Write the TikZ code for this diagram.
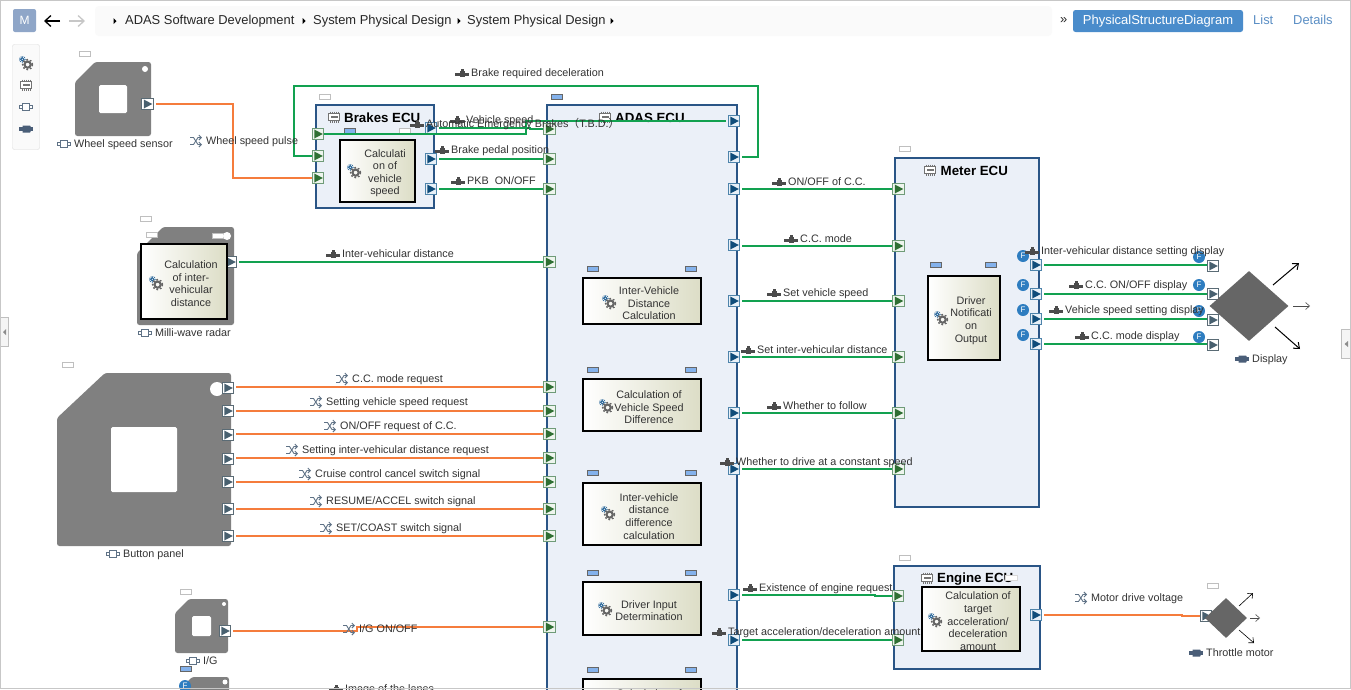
\documentclass[tikz,border=0pt]{standalone}
\usepackage{fontspec}
\setmainfont{Liberation Sans}
\newfontfamily\cjkf{Noto Sans CJK JP}
\usetikzlibrary{shapes.geometric,arrows.meta,calc}
\definecolor{ecufill}{HTML}{EBF0F8}
\definecolor{eculine}{HTML}{2A5586}
\definecolor{grn}{HTML}{12A150}
\definecolor{org}{HTML}{F57C3C}
\definecolor{devgray}{HTML}{808080}
\definecolor{dia}{HTML}{666666}
\definecolor{funcr}{HTML}{DCDDC6}
\definecolor{tagblue}{HTML}{84B2EC}
\definecolor{fblue}{HTML}{2E7DC0}
\definecolor{txt}{HTML}{333333}
\definecolor{linkb}{HTML}{5B8FC5}
\definecolor{btnb}{HTML}{4A8CCB}
\definecolor{mbtn}{HTML}{8FA6C8}
\definecolor{ipb}{HTML}{6F9B78}
\definecolor{ipf}{HTML}{EEF5EE}
\definecolor{ipt}{HTML}{2F6F33}
\definecolor{opb}{HTML}{4E84AB}
\definecolor{opf}{HTML}{E8F0F8}
\definecolor{opt}{HTML}{0F4C7A}
\definecolor{dpb}{HTML}{5A6B75}
\definecolor{dpt}{HTML}{48606F}
\definecolor{iconb}{HTML}{5F7286}
\definecolor{iconh}{HTML}{4A5E78}
\tikzset{
 lbl/.style={anchor=west,inner sep=0pt,text height=8pt,text depth=2pt,yshift=-.7pt,font=\fontsize{10.8}{12}\selectfont,text=txt},
 ctext/.style={inner sep=0pt,align=center,yshift=-2.3pt,font=\fontsize{10.8}{12.6}\selectfont,text=txt},
 crumb/.style={anchor=west,inner sep=0pt,text height=9pt,text depth=3pt,yshift=-.7pt,font=\fontsize{12.9}{14}\selectfont,text=black!85},
 ttl/.style={anchor=west,inner sep=0pt,yshift=-.8pt,font=\bfseries\fontsize{13.3}{13}\selectfont},
 ecubox/.style={draw=eculine,line width=1.6pt,fill=ecufill,inner sep=0pt},
 funcbox/.style={draw=black,line width=1.8pt,left color=white,right color=funcr,inner sep=0pt},
 port/.style n args={3}{draw=#1,fill=#2,line width=1.1pt,minimum size=11.5pt,inner sep=0pt,
   path picture={\fill[#3] ([shift={(-3.7,-4.5)}]path picture bounding box.center) -- ++(8.5,4.5) -- ++(-8.5,4.5) -- cycle;}},
 inport/.style={port={ipb}{ipf}{ipt}},
 outport/.style={port={opb}{opf}{opt}},
 devport/.style={port={dpb}{white}{dpt}},
 greenwire/.style={draw=grn,line width=1.6pt,shorten <=2pt},
 orangewire/.style={draw=org,line width=1.6pt,shorten <=2pt},
 tagwhite/.style={draw=black!25,fill=white,line width=.8pt,inner sep=0pt},
 tagblue/.style={draw=black!60,fill=tagblue,line width=.8pt,inner sep=0pt},
 fcirc/.style={circle,fill=fblue,text=white,inner sep=0pt,minimum size=12pt,font=\fontsize{8}{8}\selectfont},
 farrow/.style={-{Straight Barb[length=5pt,width=8pt]},line width=1pt,black},
 farrowthin/.style={-{Straight Barb[length=4pt,width=7pt]},line width=.6pt,black!70},
 gearicon/.pic={
   \draw[fblue!80!black,line width=1pt] (-3.7,-3.7) circle (1.7);
   \draw[fblue!80!black,line width=.8pt,dash pattern=on .9pt off 1.1pt] (-3.7,-3.7) circle (3);
   \draw[black!60,line width=2.1pt] (1.6,1.6) circle (3.1);
   \draw[black!60,line width=1.4pt,dash pattern=on 1.7pt off 1.9pt] (1.6,1.6) circle (5);
 },
 chipicon/.pic={
   \draw[black!55,line width=1.2pt,fill=white] (-5.5,-3.5) rectangle (5.5,3.5);
   \fill[black!55] (-3.5,-1) rectangle (3.5,1);
   \foreach \k in {-4,-2,0,2,4}{\draw[black!55,line width=.7pt] (\k,-5.5) -- (\k,-3.5) (\k,3.5) -- (\k,5.5);}
 },
 connicon/.pic={
   \draw[iconb,line width=.8pt,fill=white] (-3.5,-3.5) rectangle (3.5,3.5);
   \draw[iconb,line width=.8pt,fill=white] (-6.5,-1.5) rectangle (-3.5,1.5);
   \draw[iconb,line width=.8pt,fill=white] (3.5,-1.5) rectangle (6,1.5);
 },
 harnicon/.pic={
   \fill[iconh] (-7,-1.8) rectangle (7,1.8);
   \fill[iconh] (-3.5,-3.5) -- (4,-3.5) -- (6,0) -- (4,3.5) -- (-3.5,3.5) -- cycle;
 },
 sigicon/.pic={
   \fill[black!70] (-7,-.2) rectangle (7,2.6);
   \fill[black!70] (-2.5,-2.2) rectangle (3,3.6);
   \fill[black!70] (-1.2,-4) rectangle (1.6,-2);
 },
 shufficon/.pic={
   \draw[iconb,line width=.9pt,-{Straight Barb[length=2.5pt,width=5pt]}] (-6,-3.5) -- (-2.5,-3.5) -- (2,3.5) -- (6,3.5);
   \draw[iconb,line width=.9pt,-{Straight Barb[length=2.5pt,width=5pt]}] (-6,3.5) -- (-2.5,3.5) -- (2,-3.5) -- (6,-3.5);
 },
}
\newcount\nctr
\newcommand{\SigL}[3]{\global\advance\nctr by 1 \pic at (#1-9,#2) {sigicon}; \node[lbl] (l\the\nctr) at (#1,#2) {#3};}
\newcommand{\ShL}[3]{\global\advance\nctr by 1 \pic at (#1-10,#2) {shufficon}; \node[lbl] (l\the\nctr) at (#1,#2) {#3};}
\newcommand{\CoL}[3]{\global\advance\nctr by 1 \pic at (#1-10,#2) {connicon}; \node[lbl] (l\the\nctr) at (#1,#2) {#3};}
\newcommand{\HaL}[3]{\global\advance\nctr by 1 \pic at (#1-10,#2) {harnicon}; \node[lbl] (l\the\nctr) at (#1,#2) {#3};}
\newcommand{\BX}[6]{\node[#1,minimum width={(#5-(#3))*1pt-1.7pt},minimum height={(#6-(#4))*1pt-1.7pt}] (#2) at ({(#3+#5)/2},{(#4+#6)/2}) {};}
\newcommand{\EB}[5]{\node[ecubox,minimum width={(#4-(#2))*1pt},minimum height={(#5-(#3))*1pt}] (#1) at ({(#2+#4)/2},{(#3+#5)/2}) {};}
\newcommand{\FB}[9]{\BX{funcbox}{#1}{#2}{#3}{#4}{#5}\pic at (#6,#7) {gearicon}; \node[ctext] (#1t) at (#8,{(#3+#5)/2}) {#9};}
\newcommand{\TG}[3]{\global\advance\nctr by 1 \node[#1,minimum width=11.5pt,minimum height=4.8pt] (t\the\nctr) at (#2+6,#3+2.5) {};}
\newcommand{\FC}[2]{\global\advance\nctr by 1 \node[fcirc] (f\the\nctr) at (#1,#2) {F};}
\newcommand{\DV}[6]{\fill[devgray,rounded corners=2.5pt] (#1,#2+#6) -- (#1+#5,#2) -- (#3,#2) -- (#3,#4) -- (#1,#4) -- cycle;}
\newcommand{\HL}[4]{\fill[white,rounded corners=1.5pt] (#1,#2) rectangle (#3,#4);}
\begin{document}
\begin{tikzpicture}[x=1pt,y=-1pt]
\useasboundingbox (0,0) rectangle (1351,689);
\clip (0,0) rectangle (1351,689);
\fill[white] (0,0) rectangle (1351,689);

% ---------- header
\fill[black!2,rounded corners=4pt] (95,6) rectangle (1052,36);
\node[fill=mbtn,text=white,rounded corners=2pt,minimum width=23pt,minimum height=23pt,inner sep=0pt,font=\fontsize{12}{12}\selectfont] (mbtnn) at (24.5,20.5) {M};
\coordinate (ba) at (60,21); \coordinate (bb) at (44,21);
\draw[black,line width=1.3pt,-{Straight Barb[length=6pt,width=11pt]}] (ba) -- (bb);
\coordinate (fa) at (69,21); \coordinate (fb) at (85,21);
\draw[black!22,line width=1.3pt,-{Straight Barb[length=6pt,width=11pt]}] (fa) -- (fb);
\foreach \tx in {115,304,459,612}{\fill[black] (\tx-1.5,18) -- (\tx+1.5,21) -- (\tx-1.5,24) -- cycle;}
\node[crumb] (c1) at (125,21) {ADAS Software Development};
\node[crumb] (c2) at (313,21) {System Physical Design};
\node[crumb] (c3) at (467,21) {System Physical Design};
\node[crumb] (c4) at (1060,19.5) {»};
\node[fill=btnb,text=white,rounded corners=2.5pt,minimum width=170pt,minimum height=22pt,inner sep=0pt,font=\fontsize{13}{14}\selectfont] (tabp) at (1158,21) {PhysicalStructureDiagram};
\node[crumb,text=linkb] (tabl) at (1253,21) {List};
\node[crumb,text=linkb] (tabd) at (1293,21) {Details};

% toolbar
\node[draw=black!14,fill=black!2,rounded corners=2pt,minimum width=27pt,minimum height=105pt,inner sep=0pt] (tb) at (26,97) {};
\pic at (26,63) {gearicon};
\pic at (26,85) {chipicon};
\pic at (26,107) {connicon};
\pic at (26,129) {harnicon};

% side tabs
\node[draw=black!25,fill=black!4,line width=.8pt,minimum width=8pt,minimum height=29pt,inner sep=0pt] (sl) at (4,331.5) {};
\fill[black!45] (6,329) -- (3,332) -- (6,335) -- cycle;
\node[draw=black!25,fill=black!4,line width=.8pt,minimum width=9pt,minimum height=29pt,inner sep=0pt] (sr) at (1345.5,343.5) {};
\fill[black!45] (1348,341) -- (1344.5,344) -- (1348,347) -- cycle;

% ---------- devices
\DV{75}{62}{151}{136}{20}{20}\HL{99}{85}{127}{113}
\fill[white] (145,69) circle (3);
\TG{tagwhite}{79}{51}
\DV{137}{227}{234}{325}{26}{26}
\TG{tagwhite}{140}{216}
\TG{tagwhite}{146}{232}
\TG{tagwhite}{212}{233}
\fill[white] (227,236) circle (4);
\DV{57}{373}{231}{546}{48}{45}\HL{111}{427}{177}{492}
\fill[white] (217,389) circle (7);
\TG{tagwhite}{62}{362}
\DV{175}{599}{228}{653}{14}{14}\HL{192}{616}{211}{636}
\fill[white] (224,604) circle (2);
\TG{tagwhite}{180}{589}
\DV{180}{677}{229}{720}{12}{12}
\fill[white] (225,682) circle (2.5);
\TG{tagblue}{180}{666}

% ---------- ECUs
\EB{brakes}{316}{105}{434}{208}
\EB{adas}{547}{105}{737}{800}
\EB{meter}{895}{158}{1039}{507}
\EB{engine}{894}{566}{1040}{669}
\TG{tagwhite}{319}{94}
\TG{tagblue}{551}{94}
\TG{tagwhite}{899}{146}
\TG{tagwhite}{899}{555}
\TG{tagwhite}{1207}{583}
\TG{tagblue}{344}{128}
\TG{tagwhite}{399}{128}
\pic at (334,117) {chipicon};
\node[ttl] (tbr) at (344,117) {Brakes ECU};
\pic at (605,117) {chipicon};
\node[ttl] (tad) at (615,117) {ADAS ECU};
\pic at (930,170) {chipicon};
\node[ttl] (tme) at (940.5,170) {Meter ECU};
\pic at (927,578) {chipicon};
\node[ttl] (ten) at (937,578) {Engine ECU};
\node[fill=white,draw=black!15,minimum width=12pt,minimum height=5pt,inner sep=0pt] (tenw) at (1011,578) {};

% ---------- ports
\node[devport] (pw) at (147.5,104) {};
\node[devport] (pr) at (231,262) {};
\foreach \n/\py in {1/388,2/411,3/435,4/459,5/482,6/509,7/536}{\node[devport] (pb\n) at (228,\py) {};}
\node[devport] (pi) at (225,631) {};
\node[inport] (bi1) at (318,134) {};
\node[inport] (bi2) at (318,156) {};
\node[inport] (bi3) at (318,178) {};
\node[outport] (bo1) at (431,128) {};
\node[outport] (bo2) at (431,159) {};
\node[outport] (bo3) at (431,189) {};
\foreach \n/\py in {1/129,2/159,3/189,4/262,5/387,6/411,7/434,8/458,9/482,10/509,11/536,12/627}{\node[inport] (ai\n) at (549.5,\py) {};}
\foreach \n/\py in {1/121,2/157,3/189,4/245,5/301,6/357,7/413,8/469,9/595,10/640}{\node[outport] (ao\n) at (734,\py) {};}
\foreach \n/\py in {1/189,2/246,3/301,4/357,5/413,6/469}{\node[inport] (mi\n) at (898.5,\py) {};}
\foreach \n/\py in {1/265,2/294,3/319,4/344}{\node[outport] (mo\n) at (1036,\py) {};}
\foreach \n/\py in {1/266,2/294,3/320,4/345}{\node[devport] (di\n) at (1213,\py) {};}
\node[inport] (ei1) at (898,596) {};
\node[inport] (ei2) at (898,640) {};
\node[outport] (eo1) at (1036,615) {};
\node[devport] (ti) at (1206,616) {};

% ---------- function boxes
\TG{tagblue}{587}{266}\TG{tagblue}{685}{266}
\FB{f1}{582}{277}{702}{325}{609}{302}{649}{Inter-Vehicle\\Distance\\Calculation}
\TG{tagblue}{587}{367}\TG{tagblue}{685}{367}
\FB{f2}{582}{378}{702}{432}{606}{406}{649}{Calculation of\\Vehicle Speed\\Difference}
\TG{tagblue}{587}{470}\TG{tagblue}{685}{470}
\FB{f3}{582}{482}{702}{546}{608}{513}{649}{Inter-vehicle\\distance\\difference\\calculation}
\TG{tagblue}{587}{570}\TG{tagblue}{685}{570}
\FB{f4}{582}{581}{702}{636}{605}{609}{649}{Driver Input\\Determination}
\TG{tagblue}{587}{667}\TG{tagblue}{685}{667}
\BX{funcbox}{f5}{582}{678}{702}{740}
\node[ctext] (f5t) at (649,691) {Calculation of};
\FB{fb}{339}{139}{416}{203}{354}{171}{385}{Calculati\\on of\\vehicle\\speed}
\FB{fr}{140}{243}{228}{320}{156}{283}{191}{Calculation\\of inter-\\vehicular\\distance}
\TG{tagblue}{930}{262}\TG{tagblue}{985}{262}
\FB{fm}{927}{275}{1001}{361}{941}{318}{971}{Driver\\Notificati\\on\\Output}
\FB{fe}{921}{586}{1021}{652}{935}{620}{978}{Calculation of\\target\\acceleration/\\deceleration\\amount}

% ---------- diamonds
\node[diamond,fill=dia,minimum width=79pt,minimum height=70pt,inner sep=0pt] (dsp) at (1249,306) {};
\node[diamond,fill=dia,minimum width=42pt,minimum height=40pt,inner sep=0pt] (thr) at (1226,618) {};
\coordinate (a1s) at (1273,285);\coordinate (a1e) at (1299,263);
\coordinate (a2s) at (1293,306);\coordinate (a2e) at (1310,306);
\coordinate (a3s) at (1275,327);\coordinate (a3e) at (1300,349);
\draw[farrow] (a1s) -- (a1e);\draw[farrowthin] (a2s) -- (a2e);\draw[farrow] (a3s) -- (a3e);
\coordinate (b1s) at (1239,606);\coordinate (b1e) at (1253,593);
\coordinate (b2s) at (1250,618);\coordinate (b2e) at (1260,618);
\coordinate (b3s) at (1239,630);\coordinate (b3e) at (1254,643);
\draw[farrowthin,black] (b1s) -- (b1e);\draw[farrowthin] (b2s) -- (b2e);\draw[farrowthin,black] (b3s) -- (b3e);

% ---------- wires
\coordinate (w1a) at (233,104);\coordinate (w1b) at (233,178);
\draw[orangewire] (pw.east) -- (w1a) -- (w1b) -- (bi3.west);
\coordinate (g1a) at (758,157);\coordinate (g1b) at (758,86);\coordinate (g1c) at (294,86);\coordinate (g1d) at (294,156);
\draw[greenwire] (ao2.east) -- (g1a) -- (g1b) -- (g1c) -- (g1d) -- (bi2.west);
\coordinate (g2a) at (526,121);\coordinate (g2b) at (526,134);
\draw[greenwire] (ao1.west) -- (g2a) -- (g2b) -- (bi1.east);
\coordinate (g3a) at (530,128);\coordinate (g3b) at (530,129);
\draw[greenwire] (bo1.east) -- (g3a) -- (g3b) -- (ai1.west);
\draw[greenwire] (bo2.east) -- (bo2.east -| ai2.west);
\draw[greenwire] (bo3.east) -- (ai3.west);
\draw[greenwire] (pr.east) -- (pr.east -| ai4.west);
\foreach \n/\m in {1/5,2/6,3/7,4/8,5/9,6/10,7/11}{\draw[orangewire] (ai\m.west -| pb\n.east) -- (ai\m.west);}
\coordinate (i1) at (357,631);\coordinate (i2) at (357,627);
\draw[orangewire] (pi.east) -- (i1) -- (i2) -- (ai12.west);
\foreach \n in {3,4,5,6,7,8}{\pgfmathtruncatemacro{\m}{\n-2}\draw[greenwire] (mi\m.west -| ao\n.east) -- (mi\m.west);}
\foreach \n in {1,2,3,4}{\draw[greenwire] (mo\n.east) -- (mo\n.east -| di\n.west);}
\coordinate (e3) at (875,595);\coordinate (e4) at (875,596);
\draw[greenwire] (ao9.east) -- (e3) -- (e4) -- (ei1.west);
\draw[greenwire] (ao10.east) -- (ao10.east -| ei2.west);
\coordinate (e1) at (1182,615);\coordinate (e2) at (1182,616);
\draw[orangewire] (eo1.east) -- (e1) -- (e2) -- (ti.west);

% ---------- F circles
\foreach \py in {256,285,310,335}{\FC{1023}{\py}}
\foreach \py in {257,285,311,337}{\FC{1199}{\py}}
\FC{185}{686}

% ---------- labels
\CoL{74}{144}{Wheel speed sensor}
\ShL{206}{141}{Wheel speed pulse}
\SigL{471}{73}{Brake required deceleration}
\SigL{466}{120}{Vehicle speed}
\SigL{426}{124}{Automatic Emergency Brakes{\cjkf （}T.B.D.{\cjkf ）}}
\SigL{451}{150}{Brake pedal position}
\SigL{467}{181}{PKB\ \ ON/OFF}
\SigL{342}{254}{Inter-vehicular distance}
\CoL{155}{333}{Milli-wave radar}
\ShL{352}{379}{C.C. mode request}
\ShL{326}{402}{Setting vehicle speed request}
\ShL{340}{426}{ON/OFF request of C.C.}
\ShL{302}{450}{Setting inter-vehicular distance request}
\ShL{315}{474}{Cruise control cancel switch signal}
\ShL{326}{501}{RESUME/ACCEL switch signal}
\ShL{336}{528}{SET/COAST switch signal}
\CoL{123}{554}{Button panel}
\ShL{359}{629}{I/G ON/OFF}
\CoL{203}{661}{I/G}
\SigL{345}{689}{Image of the lanes}
\SigL{788}{182}{ON/OFF of C.C.}
\SigL{800}{239}{C.C. mode}
\SigL{783}{293}{Set vehicle speed}
\SigL{757}{350}{Set inter-vehicular distance}
\SigL{783}{406}{Whether to follow}
\SigL{736}{462}{Whether to drive at a constant speed}
\SigL{1041}{251}{Inter-vehicular distance setting display}
\SigL{1085}{285}{C.C. ON/OFF display}
\SigL{1065}{310}{Vehicle speed setting display}
\SigL{1091}{336}{C.C. mode display}
\HaL{1252}{359}{Display}
\SigL{759}{588}{Existence of engine request}
\SigL{728}{632}{Target acceleration/deceleration amount}
\ShL{1091}{598}{Motor drive voltage}
\HaL{1206}{653}{Throttle motor}

% frame
\draw[black!22,line width=1pt] (.5,.5) rectangle (1350,688.5);
\end{tikzpicture}
\end{document}
